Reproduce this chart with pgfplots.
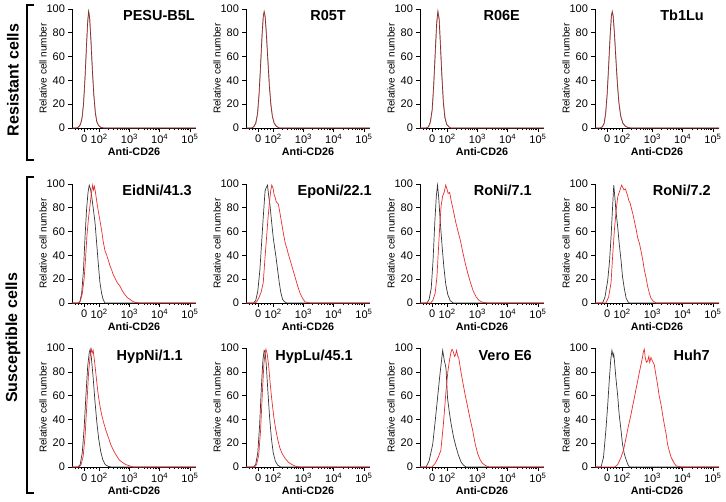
\documentclass[border=0pt]{standalone}
\usepackage{pgfplots}
\pgfplotsset{compat=1.18}
\usepackage{fontspec}
\setmainfont{Liberation Sans}
\definecolor{cblk}{RGB}{55,55,55}
\definecolor{cred}{RGB}{236,45,45}
\pgfplotsset{
  hist/.style={
    width=124pt, height=119pt, scale only axis, anchor=south west,
    xmin=1.1, xmax=5.2, ymin=0, ymax=100,
    axis lines=left, axis line style={-, line width=0.8pt, black},
    tick align=outside, major tick length=4pt, minor tick length=2.2pt,
    every tick/.style={black, line width=0.6pt},
    xtick={1.5,2,3,4,5},
    xticklabels={0,10\textsuperscript{2},10\textsuperscript{3},10\textsuperscript{4},10\textsuperscript{5}},
    minor xtick={1.2,1.3,1.4,1.6,1.7,1.8,1.9,2.301,2.477,2.602,2.699,2.778,2.845,2.903,2.954,3.301,3.477,3.602,3.699,3.778,3.845,3.903,3.954,4.301,4.477,4.602,4.699,4.778,4.845,4.903,4.954},
    ytick={0,20,40,60,80,100},
    /pgf/number format/assume math mode=true,
    tick label style={font=\fontsize{11}{13}\selectfont},
    xticklabel style={yshift=1pt},
    yticklabel style={xshift=0.5pt},
    clip=false,
  },
  blk/.style={cblk, line width=0.7pt},
  rd/.style={cred, line width=0.7pt},
  rdo/.style={cred, line width=0.7pt, opacity=0.6},
}
\newcommand{\decor}[2]{%
  \node[rotate=90, font=\fontsize{10}{12}\selectfont] at ([xshift=-29pt]rel axis cs:0,0.5) {Relative cell number};
  \node[font=\bfseries\fontsize{10.8}{13}\selectfont] at ([yshift=-24pt]rel axis cs:0.5,0) {Anti-CD26};
  \node[anchor=base east, inner sep=0pt, font=\bfseries\fontsize{14.5}{17}\selectfont] at ([xshift=#2pt, yshift=-12pt]rel axis cs:0,1) {#1};
}
\begin{document}
\begin{tikzpicture}
\path[use as bounding box] (0pt,0pt) rectangle (726pt,501pt);
% row labels and brackets
\node[rotate=90, font=\bfseries\fontsize{16}{19}\selectfont] at (13pt,421pt) {Resistant cells};
\node[rotate=90, font=\bfseries\fontsize{16}{19}\selectfont] at (13pt,163pt) {Susceptible cells};
\draw[line width=1.6pt] (34pt,496pt) -- (27pt,496pt) -- (27pt,341pt) -- (34pt,341pt);
\draw[line width=1.6pt] (34pt,324pt) -- (27pt,324pt) -- (27pt,8pt) -- (34pt,8pt);
% ---------------- Row 1 ----------------
\begin{axis}[hist, at={(72pt,373pt)}]
\addplot[blk] coordinates {(1.1,0)(1.25,0)(1.32,1)(1.38,3)(1.43,8)(1.48,20)(1.53,42)(1.58,70)(1.62,90)(1.65,98)(1.68,93)(1.72,76)(1.77,50)(1.82,28)(1.87,13)(1.92,5)(1.98,2)(2.05,0.5)(2.15,0)(5.2,0)};
\addplot[rdo] coordinates {(1.1,0)(1.26,0)(1.33,1)(1.39,4)(1.44,10)(1.49,23)(1.54,46)(1.59,74)(1.63,92)(1.66,97)(1.69,92)(1.73,74)(1.78,48)(1.83,26)(1.88,12)(1.93,5)(1.99,2)(2.06,0.5)(2.15,0)(5.2,0)};
\decor{PESU-B5L}{123}
\end{axis}
\begin{axis}[hist, at={(246pt,373pt)}]
\addplot[blk] coordinates {(1.1,0)(1.28,0)(1.35,1)(1.42,4)(1.48,12)(1.53,28)(1.58,52)(1.63,78)(1.67,94)(1.70,98)(1.73,94)(1.77,80)(1.82,58)(1.87,36)(1.92,20)(1.97,10)(2.03,4)(2.1,1.5)(2.2,0)(5.2,0)};
\addplot[rdo] coordinates {(1.1,0)(1.29,0)(1.36,1)(1.43,4)(1.49,13)(1.54,30)(1.59,55)(1.64,80)(1.68,95)(1.71,97)(1.74,93)(1.78,78)(1.83,56)(1.88,35)(1.93,19)(1.98,9)(2.04,4)(2.11,1.5)(2.21,0)(5.2,0)};
\decor{R05T}{100}
\end{axis}
\begin{axis}[hist, at={(420pt,373pt)}]
\addplot[blk] coordinates {(1.1,0)(1.3,0)(1.38,1)(1.44,5)(1.5,15)(1.55,35)(1.6,62)(1.65,88)(1.69,98)(1.73,92)(1.77,72)(1.82,45)(1.87,22)(1.92,9)(1.98,3)(2.05,1)(2.12,0)(5.2,0)};
\addplot[rdo] coordinates {(1.1,0)(1.31,0)(1.39,1)(1.45,5)(1.51,16)(1.56,37)(1.61,64)(1.66,89)(1.7,97)(1.74,91)(1.78,70)(1.83,43)(1.88,21)(1.93,9)(1.99,3)(2.06,1)(2.13,0)(5.2,0)};
\decor{R06E}{100}
\end{axis}
\begin{axis}[hist, at={(595pt,373pt)}]
\addplot[blk] coordinates {(1.1,0)(1.27,0)(1.34,1)(1.4,4)(1.45,12)(1.5,28)(1.55,52)(1.6,78)(1.64,94)(1.67,98)(1.7,94)(1.74,80)(1.79,58)(1.84,37)(1.89,21)(1.95,10)(2.02,4)(2.1,1.5)(2.2,0.3)(2.3,0)(5.2,0)};
\addplot[rdo] coordinates {(1.1,0)(1.28,0)(1.35,1)(1.41,4)(1.46,13)(1.51,30)(1.56,55)(1.61,80)(1.65,95)(1.68,97)(1.71,93)(1.75,78)(1.8,56)(1.85,35)(1.9,20)(1.96,9)(2.03,4)(2.11,1.5)(2.21,0.3)(2.3,0)(5.2,0)};
\decor{Tb1Lu}{109}
\end{axis}
% ---------------- Row 2 ----------------
\begin{axis}[hist, at={(72pt,198pt)}]
\addplot[blk] coordinates {(1.1,0)(1.3,0)(1.36,1)(1.42,8)(1.48,28)(1.53,55)(1.58,78)(1.63,93)(1.67,99)(1.71,96)(1.76,88)(1.81,78)(1.86,68)(1.91,52)(1.97,33)(2.02,18)(2.08,8)(2.13,3)(2.19,0)(5.2,0)};
\addplot[rd] coordinates {(1.1,0)(1.33,0)(1.38,2)(1.44,8)(1.5,20)(1.55,38)(1.59,55)(1.64,70)(1.7,83)(1.74,92)(1.78,99)(1.81,95)(1.84,98)(1.87,94)(1.92,85)(1.97,77)(2.02,70)(2.08,61)(2.13,52)(2.19,44)(2.25,40)(2.3,36)(2.36,31)(2.41,28)(2.46,24)(2.52,21)(2.6,17)(2.69,14)(2.77,10)(2.85,7)(2.93,4.5)(3.02,3)(3.1,1.5)(3.19,0.5)(3.35,0)(5.2,0)};
\decor{EidNi/41.3}{120}
\end{axis}
\begin{axis}[hist, at={(246pt,198pt)}]
\addplot[blk] coordinates {(1.1,0)(1.35,0)(1.42,2)(1.49,10)(1.56,28)(1.62,52)(1.67,72)(1.73,94)(1.77,97)(1.81,99)(1.85,90)(1.89,83)(1.94,70)(2.0,55)(2.05,46)(2.09,39)(2.14,29)(2.2,17)(2.25,9)(2.31,3)(2.38,1)(2.45,0)(5.2,0)};
\addplot[rd] coordinates {(1.1,0)(1.4,0)(1.45,1)(1.52,4)(1.6,9)(1.67,17)(1.72,35)(1.78,55)(1.83,72)(1.87,83)(1.91,93)(1.95,99)(1.99,97)(2.03,91)(2.06,89)(2.1,85)(2.14,84)(2.17,83)(2.22,76)(2.28,67)(2.34,58)(2.4,50)(2.45,46)(2.5,41)(2.56,36)(2.64,29)(2.72,22)(2.8,15)(2.89,8)(2.97,4)(3.05,1)(3.15,0.3)(3.25,0)(5.2,0)};
\decor{EpoNi/22.1}{126}
\end{axis}
\begin{axis}[hist, at={(420pt,198pt)}]
\addplot[blk] coordinates {(1.1,0)(1.33,0)(1.4,3)(1.47,12)(1.53,35)(1.59,68)(1.64,90)(1.68,99)(1.72,88)(1.77,68)(1.83,48)(1.89,30)(1.95,16)(2.02,7)(2.1,2)(2.2,0)(5.2,0)};
\addplot[rd] coordinates {(1.1,0)(1.45,0)(1.52,2)(1.6,8)(1.66,22)(1.71,45)(1.76,68)(1.8,82)(1.85,90)(1.9,93)(1.95,99)(1.99,96)(2.03,92)(2.08,93)(2.13,86)(2.2,78)(2.28,68)(2.36,60)(2.44,52)(2.52,42)(2.6,33)(2.68,25)(2.77,17)(2.86,10)(2.96,5)(3.06,2)(3.18,0.5)(3.35,0)(5.2,0)};
\decor{RoNi/7.1}{112}
\end{axis}
\begin{axis}[hist, at={(595pt,198pt)}]
\addplot[blk] coordinates {(1.1,0)(1.35,0)(1.43,5)(1.52,19)(1.58,35)(1.63,55)(1.68,80)(1.72,99)(1.76,88)(1.79,78)(1.85,64)(1.9,50)(1.96,36)(2.01,22)(2.07,12)(2.13,4)(2.19,1)(2.24,0)(5.2,0)};
\addplot[rd] coordinates {(1.1,0)(1.46,0)(1.55,5)(1.63,17)(1.68,38)(1.74,61)(1.8,78)(1.85,89)(1.9,93)(1.94,96)(1.98,99)(2.02,97)(2.06,95)(2.1,96)(2.13,94)(2.18,90)(2.22,86)(2.26,84)(2.29,81)(2.35,75)(2.4,69)(2.46,62)(2.51,55)(2.57,50)(2.62,44)(2.68,36)(2.73,28)(2.79,21)(2.84,14)(2.9,8)(2.95,4)(3.03,1.5)(3.12,0)(5.2,0)};
\decor{RoNi/7.2}{116}
\end{axis}
% ---------------- Row 3 ----------------
\begin{axis}[hist, at={(72pt,34pt)}]
\addplot[blk] coordinates {(1.1,0)(1.3,0)(1.37,2)(1.44,12)(1.5,32)(1.56,60)(1.62,85)(1.67,96)(1.7,99)(1.74,92)(1.8,75)(1.86,55)(1.92,38)(1.98,24)(2.05,13)(2.12,6)(2.2,2)(2.3,0.5)(2.4,0)(5.2,0)};
\addplot[rd] coordinates {(1.1,0)(1.33,0)(1.4,2)(1.47,9)(1.53,25)(1.59,52)(1.65,80)(1.7,93)(1.74,99)(1.77,96)(1.8,98)(1.84,90)(1.9,76)(1.96,62)(2.02,52)(2.08,44)(2.15,37)(2.22,31)(2.3,25)(2.38,19)(2.47,14)(2.56,10)(2.66,6)(2.76,4)(2.88,2)(3.0,1)(3.12,0)(5.2,0)};
\decor{HypNi/1.1}{111}
\end{axis}
\begin{axis}[hist, at={(246pt,34pt)}]
\addplot[blk] coordinates {(1.1,0)(1.35,0)(1.42,2)(1.49,12)(1.55,35)(1.61,68)(1.66,90)(1.7,98)(1.73,97)(1.77,86)(1.82,65)(1.88,42)(1.94,24)(2.0,12)(2.07,5)(2.15,1.5)(2.25,0)(5.2,0)};
\addplot[rd] coordinates {(1.1,0)(1.38,0)(1.45,2)(1.52,10)(1.58,30)(1.64,62)(1.69,86)(1.73,96)(1.76,99)(1.8,95)(1.85,85)(1.9,70)(1.96,55)(2.02,42)(2.08,32)(2.15,23)(2.22,16)(2.3,11)(2.4,7)(2.5,4)(2.62,2)(2.75,0.5)(2.9,0)(5.2,0)};
\decor{HypLu/45.1}{107}
\end{axis}
\begin{axis}[hist, at={(420pt,34pt)}]
\addplot[blk] coordinates {(1.1,0)(1.3,0)(1.4,5)(1.52,19)(1.6,38)(1.68,58)(1.76,78)(1.85,98)(1.9,90)(1.96,83)(2.01,58)(2.07,46)(2.13,36)(2.21,25)(2.29,17)(2.37,10)(2.46,4)(2.54,1.5)(2.62,0)(5.2,0)};
\addplot[rd] coordinates {(1.1,0)(1.5,0)(1.6,3)(1.7,8)(1.79,14)(1.87,35)(1.96,64)(2.02,80)(2.07,89)(2.12,96)(2.16,99)(2.2,97)(2.24,93)(2.27,94)(2.31,98)(2.35,93)(2.38,92)(2.44,82)(2.51,72)(2.59,61)(2.68,50)(2.76,40)(2.84,31)(2.92,20)(3.01,11)(3.09,6)(3.17,3)(3.28,1)(3.39,0)(5.2,0)};
\decor{Vero E6}{112}
\end{axis}
\begin{axis}[hist, at={(595pt,34pt)}]
\addplot[blk] coordinates {(1.1,0)(1.3,0)(1.38,8)(1.46,31)(1.52,52)(1.57,72)(1.62,90)(1.66,98)(1.7,93)(1.72,95)(1.74,90)(1.79,75)(1.85,60)(1.9,44)(1.96,31)(2.01,19)(2.07,11)(2.13,6)(2.19,2)(2.24,0)(5.2,0)};
\addplot[rd] coordinates {(1.1,0)(1.75,0)(1.85,2)(1.96,8)(2.05,15)(2.13,25)(2.21,35)(2.29,44)(2.35,52)(2.4,58)(2.46,66)(2.51,72)(2.57,80)(2.62,86)(2.67,92)(2.7,97)(2.73,99)(2.76,92)(2.8,88)(2.84,89)(2.88,93)(2.91,88)(2.95,92)(3.0,89)(3.06,86)(3.11,78)(3.17,69)(3.22,60)(3.28,53)(3.33,45)(3.39,36)(3.45,28)(3.5,19)(3.56,13)(3.62,8)(3.7,4)(3.78,1)(3.9,0.3)(3.95,0)(5.2,0)};
\decor{Huh7}{115}
\end{axis}
\end{tikzpicture}
\end{document}
